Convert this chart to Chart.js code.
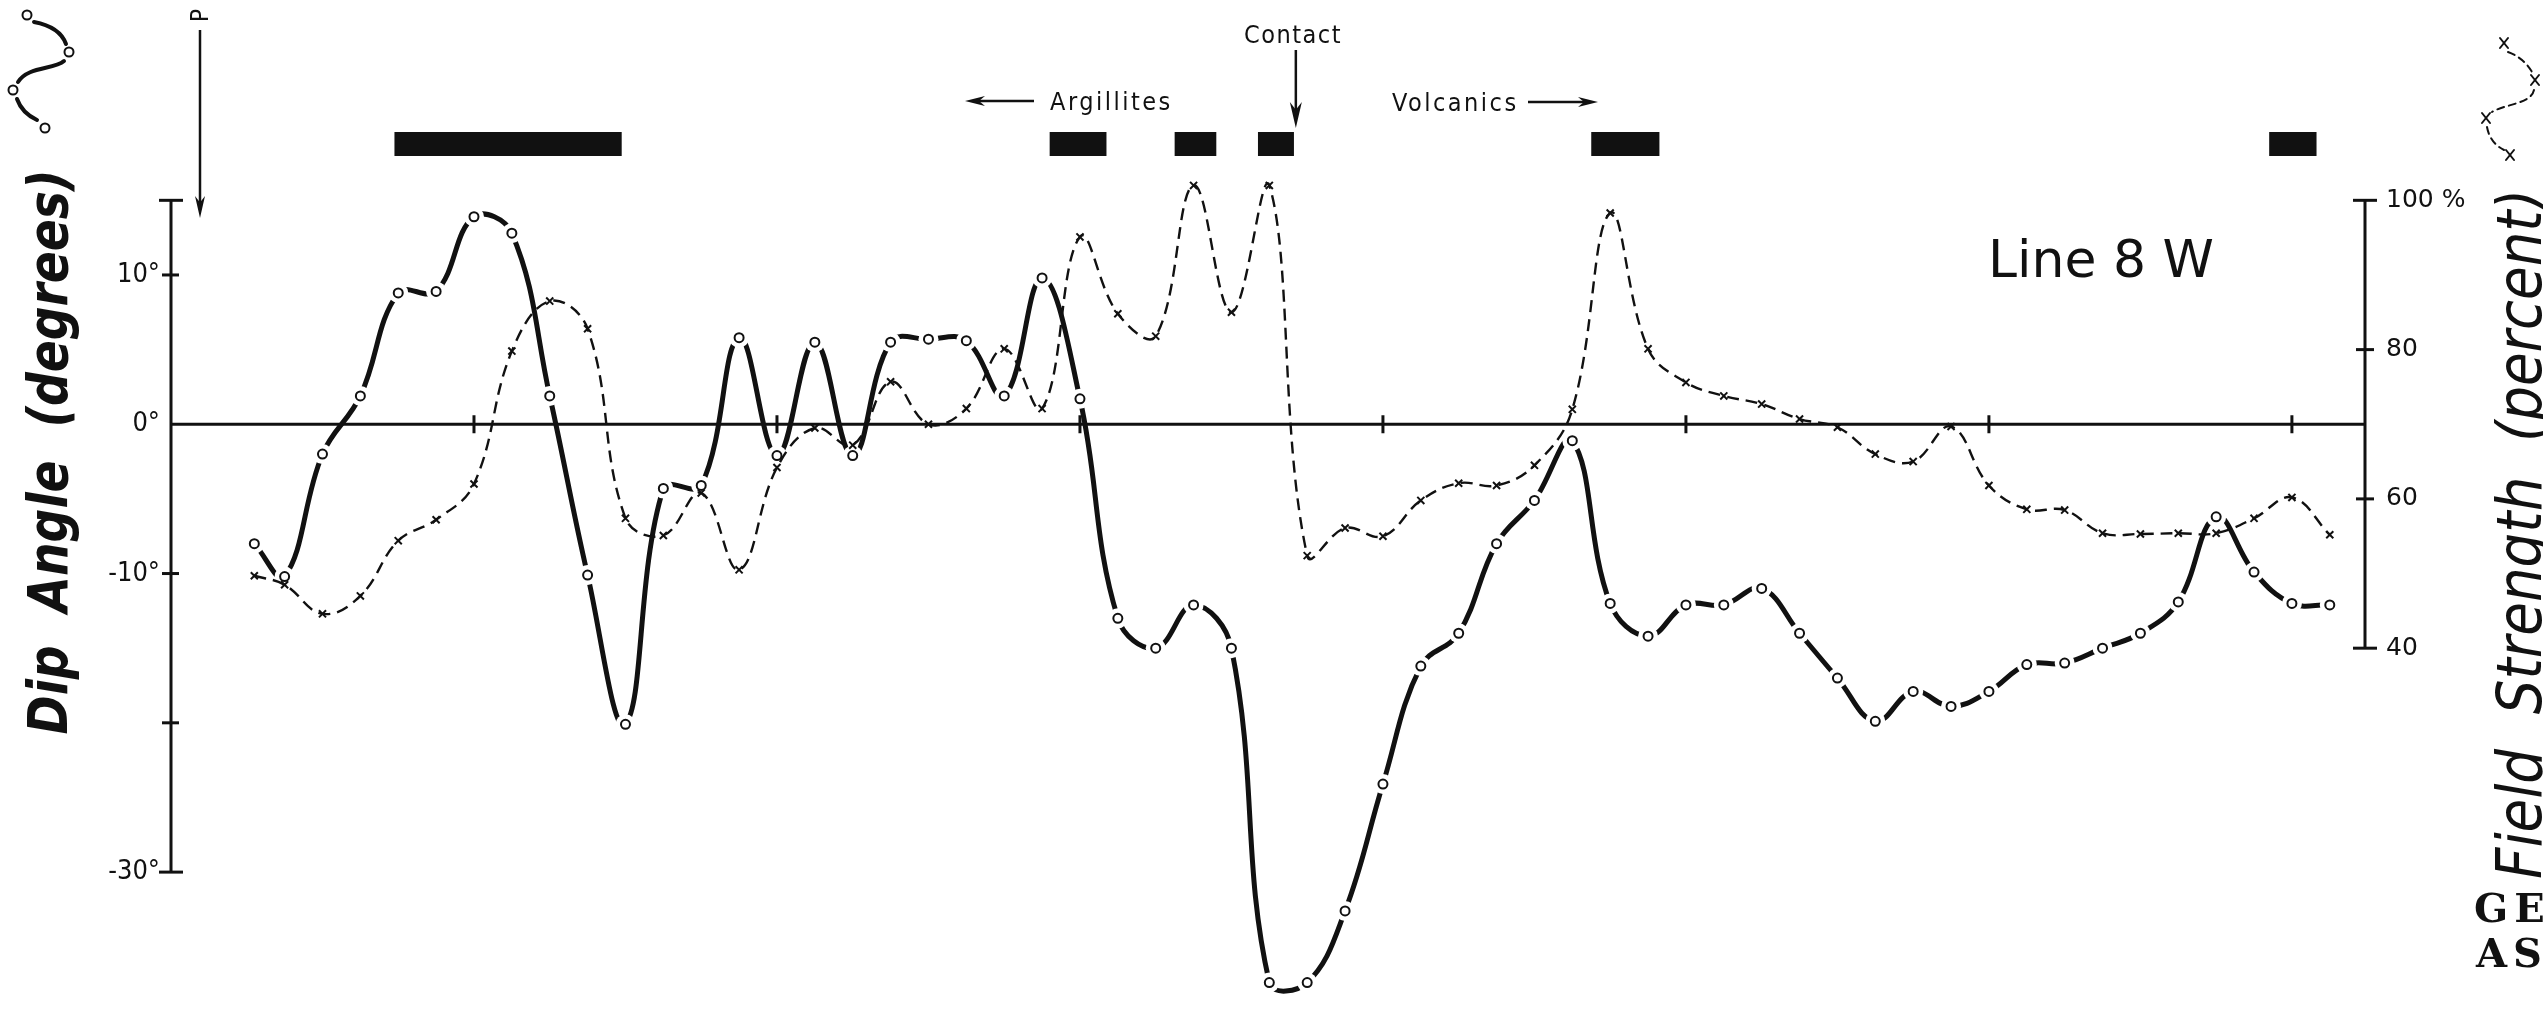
<!DOCTYPE html>
<html>
<head>
<meta charset="utf-8">
<title>Line 8 W</title>
<script src="https://cdn.jsdelivr.net/npm/chart.js@4.4.1/dist/chart.umd.min.js"></script>
<style>
  html, body { margin: 0; padding: 0; background: #fff; }
  #wrap { position: relative; width: 2543px; height: 1009px; }
</style>
</head>
<body>
<div id="wrap"><canvas id="profile"></canvas></div>
<script>
// Readings along the line (station numbers, 8 stations per tick on the 0 line)
const stations = [2.2, 3, 4, 5, 6, 7, 8, 9, 10, 11, 12, 13, 14, 15, 16, 17, 18, 19, 20,
    21, 22, 23, 24, 25, 26, 27, 28, 29, 30, 31, 32, 33, 34, 35, 36, 37, 38, 39, 40,
    41, 42, 43, 44, 45, 46, 47, 48, 49, 50, 51, 52, 53, 54, 55, 56, 57];

// dip angle, degrees (circles, solid line)
const dipAngle = [-8.0, -10.2, -2.0, 1.9, 8.8, 8.9, 13.9, 12.8, 1.9, -10.1, -20.1, -4.3, -4.1,
    5.8, -2.1, 5.5, -2.1, 5.5, 5.7, 5.6, 1.9, 9.8, 1.7, -13.0, -15.0, -12.1, -15.0,
    -37.4, -37.4, -32.6, -24.1, -16.2, -14.0, -8.0, -5.1, -1.1, -12.0, -14.2, -12.1,
    -12.1, -11.0, -14.0, -17.0, -19.9, -17.9, -18.9, -17.9, -16.1, -16.0, -15.0, -14.0,
    -11.9, -6.2, -9.9, -12.0, -12.1];

// field strength, percent (crosses, dashed line)
const fieldStrength = [49.7, 48.5, 44.6, 47.0, 54.4, 57.2, 62.0, 79.8, 86.5, 82.8, 57.4, 55.1,
    60.8, 50.5, 64.2, 69.5, 67.2, 75.7, 70.0, 72.1, 80.1, 72.1, 95.1, 84.8, 81.8, 102.0,
    85.0, 102.0, 52.4, 56.1, 55.0, 59.8, 62.1, 61.8, 64.5, 72.0, 98.3, 80.1, 75.6, 73.8,
    72.7, 70.7, 69.6, 66.0, 65.0, 69.7, 61.8, 58.6, 58.5, 55.4, 55.3, 55.4, 55.4, 57.4,
    60.2, 55.2];

const dipTicks = [10, 0, -10, -20, -30];
const fieldTicks = [100, 80, 60, 40];
const stationTicks = [8, 16, 24, 32, 40, 48, 56];

// black bars above the profile, start/end station
const barStart = [5.9, 23.2, 26.5, 28.7, 37.5, 55.4];
const barEnd = [11.9, 24.7, 27.6, 29.65, 39.3, 56.65];
const contactStation = 29.7;

const INK = '#111';
const LABEL_FONT = '"DejaVu Sans Condensed", "DejaVu Sans", sans-serif';

function line(ctx, x1, y1, x2, y2) {
    ctx.beginPath();
    ctx.moveTo(x1, y1);
    ctx.lineTo(x2, y2);
    ctx.stroke();
}

function arrow(ctx, x1, y1, x2, y2, len, half) {
    const a = Math.atan2(y2 - y1, x2 - x1);
    line(ctx, x1, y1, x2 - Math.cos(a) * len * 0.6, y2 - Math.sin(a) * len * 0.6);
    ctx.beginPath();
    ctx.moveTo(x2, y2);
    ctx.lineTo(x2 - Math.cos(a) * len - Math.sin(a) * half, y2 - Math.sin(a) * len + Math.cos(a) * half);
    ctx.lineTo(x2 - Math.cos(a) * len * 0.7, y2 - Math.sin(a) * len * 0.7);
    ctx.lineTo(x2 - Math.cos(a) * len + Math.sin(a) * half, y2 - Math.sin(a) * len - Math.cos(a) * half);
    ctx.closePath();
    ctx.fill();
}

function rotatedTitle(ctx, text, x, cy, length, font) {
    ctx.save();
    ctx.translate(x, cy);
    ctx.rotate(-Math.PI / 2);
    ctx.font = font;
    ctx.textAlign = 'center';
    ctx.textBaseline = 'alphabetic';
    const w = ctx.measureText(text).width;
    ctx.scale(length / w, 1);
    ctx.fillText(text, 0, 0);
    ctx.restore();
}

function openCircle(ctx, x, y) {
    ctx.beginPath();
    ctx.arc(x, y, 4.5, 0, Math.PI * 2);
    ctx.fillStyle = '#fff';
    ctx.fill();
    ctx.stroke();
}

function cross(ctx, x, y) {
    line(ctx, x - 4, y - 5, x + 4, y + 5);
    line(ctx, x + 4, y - 5, x - 4, y + 5);
}

const profileFrame = {
    id: 'profileFrame',
    beforeDatasetsDraw(chart) {
        const ctx = chart.ctx;
        const {left, right} = chart.chartArea;
        const xs = chart.scales.x, ys = chart.scales.y, y2 = chart.scales.y2;
        ctx.save();
        ctx.strokeStyle = INK;
        ctx.lineWidth = 3;

        // dip angle axis, 15 deg to -30 deg
        const top = ys.getPixelForValue(15), bottom = ys.getPixelForValue(-30);
        line(ctx, left, top, left, bottom);
        line(ctx, left - 12, top, left + 12, top);
        line(ctx, left - 12, bottom, left + 12, bottom);
        dipTicks.filter(v => v !== 0 && v !== -30).forEach(v => {
            const p = ys.getPixelForValue(v);
            line(ctx, left - 9, p, left + 8, p);
        });

        // zero line with station ticks
        const zero = ys.getPixelForValue(0);
        line(ctx, left, zero, right, zero);
        stationTicks.forEach(s => {
            const p = xs.getPixelForValue(s);
            line(ctx, p, zero - 9, p, zero + 9);
        });

        // field strength axis, 100 % to 40 %
        const fTop = y2.getPixelForValue(100), fBottom = y2.getPixelForValue(40);
        line(ctx, right, fTop, right, fBottom);
        line(ctx, right - 12, fTop, right + 12, fTop);
        line(ctx, right - 12, fBottom, right + 12, fBottom);
        [80, 60].forEach(v => {
            const p = y2.getPixelForValue(v);
            line(ctx, right - 9, p, right + 9, p);
        });
        ctx.restore();
    },
    afterDraw(chart) {
        const ctx = chart.ctx;
        const xs = chart.scales.x;
        ctx.save();
        ctx.fillStyle = INK;
        ctx.strokeStyle = INK;

        // bars
        barStart.forEach((s, i) => {
            const x1 = xs.getPixelForValue(s), x2 = xs.getPixelForValue(barEnd[i]);
            ctx.fillRect(x1, 132, x2 - x1, 24);
        });

        // annotations
        ctx.lineWidth = 2.5;
        ctx.textBaseline = 'alphabetic';
        ctx.font = '25px ' + LABEL_FONT;
        ctx.textAlign = 'center';
        ctx.letterSpacing = '1.5px';
        ctx.fillText('Contact', 1293, 43);
        const cx = xs.getPixelForValue(contactStation);
        arrow(ctx, cx, 50, cx, 128, 26, 6);

        ctx.textAlign = 'left';
        ctx.letterSpacing = '2.5px';
        ctx.fillText('Argillites', 1050, 110);
        arrow(ctx, 1034, 101, 965, 101, 20, 5);
        ctx.fillText('Volcanics', 1392, 111);
        arrow(ctx, 1528, 102, 1598, 102, 20, 5);

        ctx.letterSpacing = '0px';
        ctx.font = '52px "DejaVu Sans", sans-serif';
        ctx.fillText('Line 8 W', 1988, 277);

        // P arrow
        arrow(ctx, 200, 30, 200, 218, 22, 5);
        ctx.save();
        ctx.translate(208, 14);
        ctx.rotate(-Math.PI / 2);
        ctx.font = '24px ' + LABEL_FONT;
        ctx.textAlign = 'left';
        ctx.fillText('P', -8, 0);
        ctx.restore();

        // axis titles
        ctx.fillStyle = INK;
        rotatedTitle(ctx, 'Dip  Angle  (degrees)', 67, 452, 565, 'italic bold 56px "DejaVu Sans", sans-serif');
        rotatedTitle(ctx, 'Field  Strength  (percent)', 2541, 534, 690, 'italic 62px "DejaVu Sans", sans-serif');

        // key sketches: dip angle (top left), field strength (top right)
        ctx.lineWidth = 4;
        ctx.lineCap = 'round';
        ctx.beginPath(); ctx.moveTo(34, 22); ctx.quadraticCurveTo(60, 27, 66, 44); ctx.stroke();
        ctx.beginPath(); ctx.moveTo(64, 61); ctx.bezierCurveTo(54, 70, 28, 66, 18, 82); ctx.stroke();
        ctx.beginPath(); ctx.moveTo(17, 99); ctx.quadraticCurveTo(22, 113, 37, 120); ctx.stroke();
        ctx.lineWidth = 2;
        [[27, 15], [69, 52], [13, 90], [45, 128]].forEach(p => openCircle(ctx, p[0], p[1]));

        ctx.fillStyle = INK;
        ctx.setLineDash([7, 5]);
        ctx.beginPath(); ctx.moveTo(2508, 52); ctx.quadraticCurveTo(2524, 58, 2532, 72); ctx.stroke();
        ctx.beginPath(); ctx.moveTo(2534, 90); ctx.bezierCurveTo(2531, 104, 2505, 104, 2492, 112); ctx.stroke();
        ctx.beginPath(); ctx.moveTo(2487, 127); ctx.quadraticCurveTo(2490, 143, 2504, 150); ctx.stroke();
        ctx.setLineDash([]);
        [[2504, 43], [2535, 80], [2486, 118], [2510, 155]].forEach(p => cross(ctx, p[0], p[1]));

        // cropped stamp
        ctx.font = 'bold 40px "DejaVu Serif", serif';
        ctx.letterSpacing = '6px';
        ctx.fillText('GE', 2474, 922);
        ctx.fillText('AS', 2476, 967);
        ctx.restore();
    }
};

const dipPoints = stations.map((s, i) => ({x: s, y: dipAngle[i]}));
const fieldPoints = stations.map((s, i) => ({x: s, y: fieldStrength[i]}));

new Chart(document.getElementById('profile'), {
    type: 'line',
    data: {
        datasets: [
            {
                // solid dip-angle curve
                data: dipPoints,
                yAxisID: 'y',
                borderColor: INK,
                borderWidth: 5,
                tension: 0.4,
                pointRadius: 0,
                order: 4
            },
            {
                // white gaps around the circles
                data: dipPoints,
                yAxisID: 'y',
                showLine: false,
                pointRadius: 10,
                pointBorderWidth: 0,
                pointBackgroundColor: '#fff',
                pointBorderColor: '#fff',
                order: 3
            },
            {
                data: fieldPoints,
                yAxisID: 'y2',
                borderColor: INK,
                borderWidth: 2.4,
                borderDash: [12, 7],
                tension: 0.4,
                pointStyle: 'crossRot',
                pointRadius: 5,
                pointBorderWidth: 2,
                pointBorderColor: INK,
                order: 2
            },
            {
                data: dipPoints,
                yAxisID: 'y',
                showLine: false,
                pointStyle: 'circle',
                pointRadius: 4.5,
                pointBorderWidth: 2,
                pointBorderColor: INK,
                pointBackgroundColor: '#fff',
                order: 1
            }
        ]
    },
    options: {
        responsive: true,
        maintainAspectRatio: false,
        devicePixelRatio: 1,
        animation: false,
        events: [],
        layout: { padding: { top: 163, bottom: 4, left: 0, right: 0 } },
        plugins: {
            legend: { display: false },
            tooltip: { enabled: false }
        },
        scales: {
            x: {
                type: 'linear',
                min: 0,
                max: 57.93,
                display: false
            },
            y: {
                position: 'left',
                min: -38.5,
                max: 17.5,
                grid: { display: false, drawTicks: false },
                border: { display: false },
                afterFit: s => { s.width = 171; s.paddingTop = 0; s.paddingBottom = 0; },
                afterBuildTicks: s => { s.ticks = dipTicks.map(v => ({value: v})); },
                ticks: {
                    color: INK,
                    padding: 11,
                    font: { family: LABEL_FONT, size: 27 },
                    callback: v => (v === -20 ? '' : v + '°')
                }
            },
            y2: {
                position: 'right',
                min: -7,
                max: 105,
                grid: { display: false, drawTicks: false },
                border: { display: false },
                afterFit: s => { s.width = 178; s.paddingTop = 0; s.paddingBottom = 0; },
                afterBuildTicks: s => { s.ticks = fieldTicks.map(v => ({value: v})); },
                ticks: {
                    color: INK,
                    padding: 21,
                    font: { family: '"DejaVu Sans", sans-serif', size: 25 },
                    callback: v => (v === 100 ? '100 %' : String(v))
                }
            }
        }
    },
    plugins: [profileFrame]
});
</script>
</body>
</html>
